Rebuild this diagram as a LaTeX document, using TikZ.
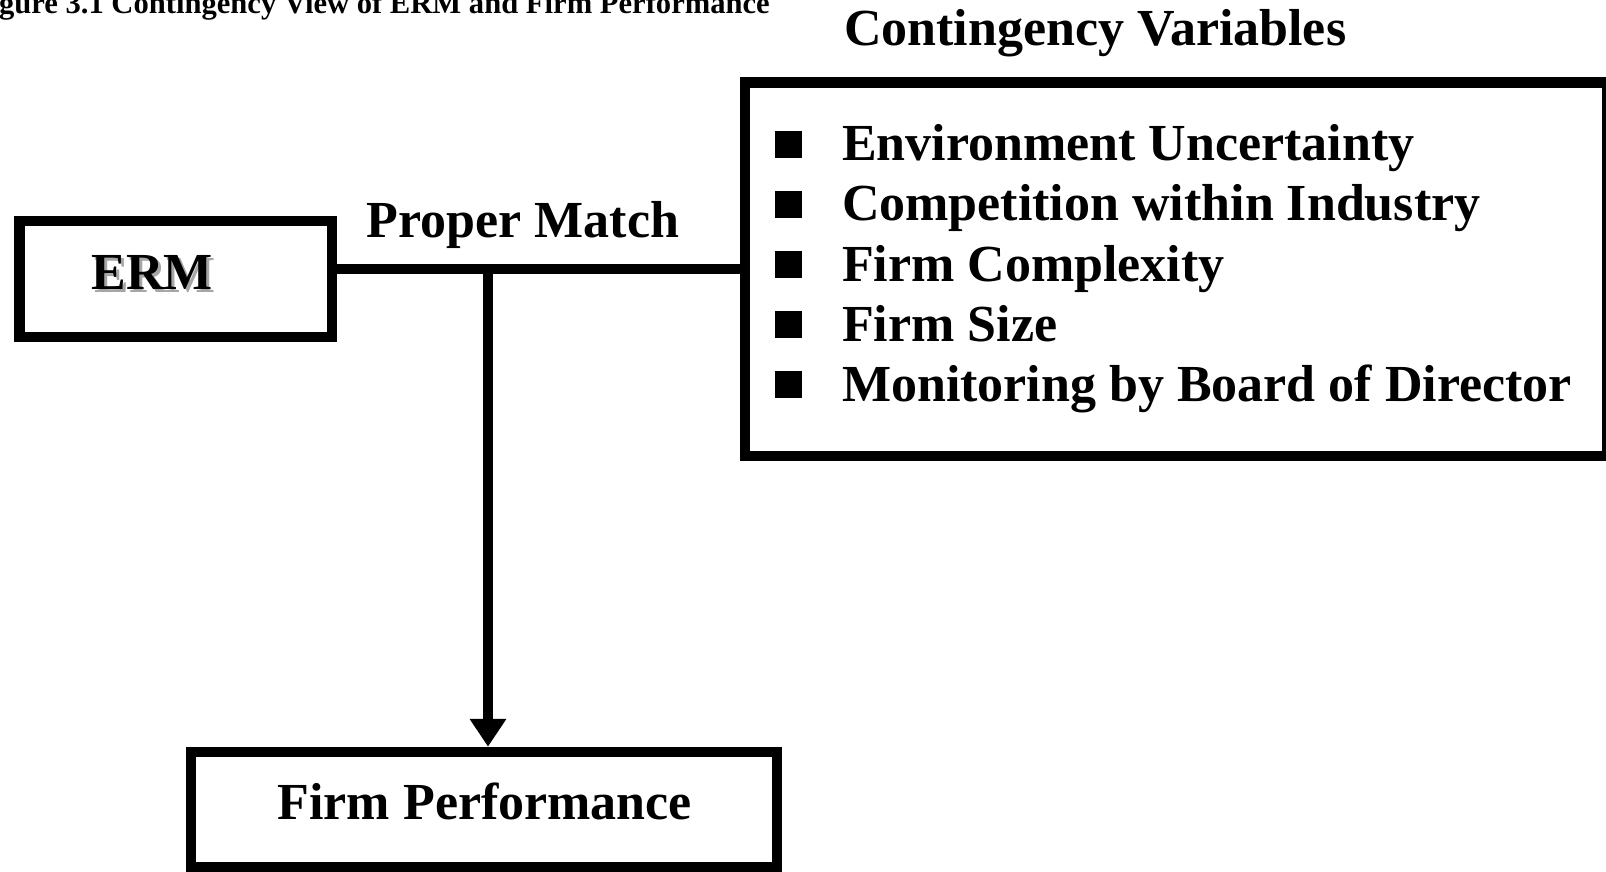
\documentclass[tikz,border=0pt]{standalone}
\usepackage{fontspec}
\setmainfont{Liberation Serif}
\usetikzlibrary{arrows.meta}

\tikzset{
  box/.style={draw=black, line width=10.5pt, inner sep=0pt, fill=none},
  label/.style={inner sep=0pt, outer sep=0pt, anchor=base west,
    font=\fontsize{52}{60}\selectfont\bfseries},
  bigtext/.style={inner sep=0pt, outer sep=0pt,
    font=\fontsize{52}{60}\selectfont\bfseries},
  caption/.style={inner sep=0pt, outer sep=0pt, anchor=base west,
    font=\fontsize{30.6}{34}\selectfont\bfseries},
  bulletsq/.style={fill=black, inner sep=0pt, minimum size=27pt},
  link/.style={line width=10pt},
  arrowlink/.style={line width=10pt, -{Triangle[width=35pt,length=28pt]}},
}

\begin{document}
\begin{tikzpicture}[x=1pt, y=-1pt]
  \useasboundingbox (0,0) rectangle (1606,872);
  \clip (0,0) rectangle (1606,872);

  % caption and heading
  \node[caption] (cap) at (-1,14) {gure 3.1 Contingency View of ERM and Firm Performance};
  \node[label] (cvtitle) at (844,46) {Contingency Variables};

  % boxes
  \node[box, minimum width=312.7pt, minimum height=116pt] (erm) at (175.6,279) {};
  \node[box, minimum width=862.5pt, minimum height=373.3pt] (cv) at (1176.3,269.2) {};
  \node[box, minimum width=586pt, minimum height=115pt] (fp) at (484,809.5) {};

  % ERM label with its soft drop shadow
  \node[bigtext, text=black!35, anchor=base] (ermshadow) at (155,292) {ERM};
  \node[bigtext, anchor=base] (ermtext) at (152,289) {ERM};

  % list of contingency variables
  \foreach \t [count=\i from 0] in {Environment Uncertainty,
      Competition within Industry, Firm Complexity, Firm Size,
      Monitoring by Board of Director}{
    \node[bulletsq] (b\i) at (788,{144.3+60.1*\i}) {};
    \node[label] (v\i) at (842,{160.8+60.1*\i}) {\t};
  }

  % proper match connector
  \node[label] (pm) at (366.7,237.6) {Proper Match};
  \coordinate (j) at (488,269);
  \draw[link] (j -| erm.east) -- (j -| cv.west);
  \draw[arrowlink] (j) -- (j |- fp.north);

  % firm performance label
  \node[label] (fptext) at (277.6,819) {Firm Performance};
\end{tikzpicture}
\end{document}
